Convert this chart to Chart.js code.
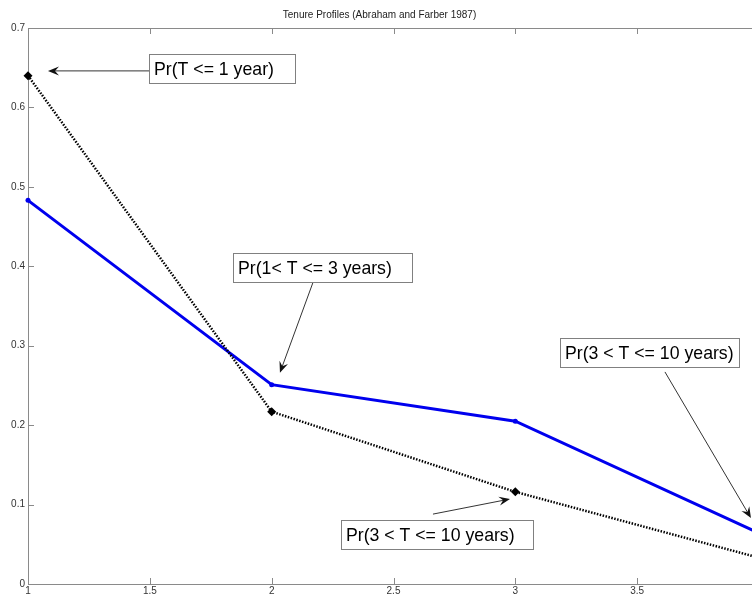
<!DOCTYPE html>
<html>
<head>
<meta charset="utf-8">
<script src="https://cdn.jsdelivr.net/npm/chart.js@4"></script>
<style>
  html, body { margin: 0; padding: 0; background: #fff; overflow: hidden; }
  canvas { display: block; }
</style>
</head>
<body>
<canvas id="chart-tenure" width="770" height="596"></canvas>
<script>
// Tenure profiles
const years = [1, 2, 3, 4];
const dottedProfile = [0.640, 0.217, 0.116, 0.033];
const solidProfile = [0.483, 0.251, 0.205, 0.064];
const xTicks = [1, 1.5, 2, 2.5, 3, 3.5, 4];
const yTicks = [0, 0.1, 0.2, 0.3, 0.4, 0.5, 0.6, 0.7];

// text boxes (left, top, right in data units) and arrows (tail -> head, data units)
const noteTexts = ['Pr(T <= 1 year)', 'Pr(1< T <= 3 years)', 'Pr(3 < T <= 10 years)', 'Pr(3 < T <= 10 years)'];
const noteBoxAt = [[1.497, 0.667, 2.096], [1.841, 0.417, 2.576], [3.183, 0.310, 3.918], [2.285, 0.081, 3.072]];
const noteArrows = [
  [1.497, 0.646, 1.082, 0.646],
  [2.170, 0.380, 2.034, 0.266],
  [3.614, 0.267, 3.967, 0.083],
  [2.662, 0.088, 2.978, 0.107],
];

const FONT = '"Liberation Sans", Arial, sans-serif';

function drawArrow(ctx, x1, y1, x2, y2) {
  const ang = Math.atan2(y2 - y1, x2 - x1);
  const len = 11, half = 4.5;
  ctx.beginPath();
  ctx.moveTo(x1, y1);
  ctx.lineTo(x2 - Math.cos(ang) * 4, y2 - Math.sin(ang) * 4);
  ctx.stroke();
  ctx.beginPath();
  ctx.moveTo(x2, y2);
  ctx.lineTo(x2 - Math.cos(ang) * len + Math.sin(ang) * half, y2 - Math.sin(ang) * len - Math.cos(ang) * half);
  ctx.lineTo(x2 - Math.cos(ang) * (len - 4), y2 - Math.sin(ang) * (len - 4));
  ctx.lineTo(x2 - Math.cos(ang) * len - Math.sin(ang) * half, y2 - Math.sin(ang) * len + Math.cos(ang) * half);
  ctx.closePath();
  ctx.fill();
}

const frame = {
  id: 'frame',
  beforeDatasetsDraw: (chart) => {
    const ctx = chart.ctx;
    const a = chart.chartArea;
    const xs = chart.scales.x, ys = chart.scales.y;
    ctx.save();
    ctx.strokeStyle = '#8a8a8a';
    ctx.lineWidth = 1;
    ctx.strokeRect(a.left + 0.5, a.top + 0.5, a.right - a.left, a.bottom - a.top);
    ctx.beginPath();
    xTicks.forEach((v) => {
      const px = Math.round(xs.getPixelForValue(v)) + 0.5;
      ctx.moveTo(px, a.bottom); ctx.lineTo(px, a.bottom - 6);
      ctx.moveTo(px, a.top); ctx.lineTo(px, a.top + 6);
    });
    yTicks.forEach((v) => {
      const py = Math.round(ys.getPixelForValue(v)) + 0.5;
      ctx.moveTo(a.left, py); ctx.lineTo(a.left + 6, py);
      ctx.moveTo(a.right, py); ctx.lineTo(a.right - 6, py);
    });
    ctx.stroke();
    ctx.restore();
  },
};

const notes = {
  id: 'notes',
  afterDatasetsDraw: (chart) => {
    const ctx = chart.ctx;
    const xs = chart.scales.x, ys = chart.scales.y;
    ctx.save();
    ctx.strokeStyle = '#333';
    ctx.fillStyle = '#111';
    ctx.lineWidth = 1;
    noteArrows.forEach((r) => {
      drawArrow(ctx, xs.getPixelForValue(r[0]), ys.getPixelForValue(r[1]),
        xs.getPixelForValue(r[2]), ys.getPixelForValue(r[3]));
    });
    ctx.font = '17.7px ' + FONT;
    ctx.textBaseline = 'middle';
    noteTexts.forEach((t, i) => {
      const bx = Math.round(xs.getPixelForValue(noteBoxAt[i][0])) + 0.5;
      const by = Math.round(ys.getPixelForValue(noteBoxAt[i][1])) + 0.5;
      const w = Math.round(xs.getPixelForValue(noteBoxAt[i][2])) + 0.5 - bx;
      const h = 29;
      ctx.fillStyle = '#fff';
      ctx.fillRect(bx, by, w, h);
      ctx.strokeStyle = '#808080';
      ctx.strokeRect(bx, by, w, h);
      ctx.fillStyle = '#000';
      ctx.fillText(t, bx + 4.5, by + h / 2 + 1);
    });
    ctx.restore();
  },
};

new Chart(document.getElementById('chart-tenure'), {
  type: 'line',
  data: {
    datasets: [
      {
        data: years.map((x, i) => ({ x, y: dottedProfile[i] })),
        borderColor: '#000',
        backgroundColor: '#000',
        borderWidth: 2.5,
        borderDash: [1.5, 1.5],
        pointStyle: 'rectRot',
        pointRadius: 4.5,
        pointBorderWidth: 0,
        tension: 0,
        clip: false,
      },
      {
        data: years.map((x, i) => ({ x, y: solidProfile[i] })),
        borderColor: '#0000ee',
        backgroundColor: '#0000ee',
        borderWidth: 3,
        pointStyle: 'circle',
        pointRadius: 2.5,
        pointBorderWidth: 0,
        tension: 0,
        clip: false,
      },
    ],
  },
  options: {
    responsive: false,
    animation: false,
    layout: { padding: { left: 0, right: 11, top: 0, bottom: 0 } },
    scales: {
      x: {
        type: 'linear',
        min: 1,
        max: 4,
        afterFit: (s) => { s.height = 12; },
        afterBuildTicks: (s) => { s.ticks = xTicks.map((v) => ({ value: v })); },
        grid: { display: false, drawTicks: false },
        border: { display: false },
        ticks: {
          padding: 1,
          maxRotation: 0,
          color: '#333',
          font: { family: FONT, size: 10 },
          callback: (v) => String(v),
        },
      },
      y: {
        min: 0,
        max: 0.7,
        afterFit: (s) => { s.width = 28; },
        afterBuildTicks: (s) => { s.ticks = yTicks.map((v) => ({ value: v })); },
        grid: { display: false, drawTicks: false },
        border: { display: false },
        ticks: {
          padding: 3,
          color: '#333',
          font: { family: FONT, size: 10 },
          callback: (v) => String(+v.toFixed(1)),
        },
      },
    },
    plugins: {
      legend: { display: false },
      tooltip: { enabled: false },
      title: {
        display: true,
        text: 'Tenure Profiles (Abraham and Farber 1987)',
        color: '#222',
        font: { family: FONT, size: 10, weight: 'normal' },
        padding: { top: 9, bottom: 7 },
      },
    },
  },
  plugins: [frame, notes],
});
</script>
</body>
</html>
